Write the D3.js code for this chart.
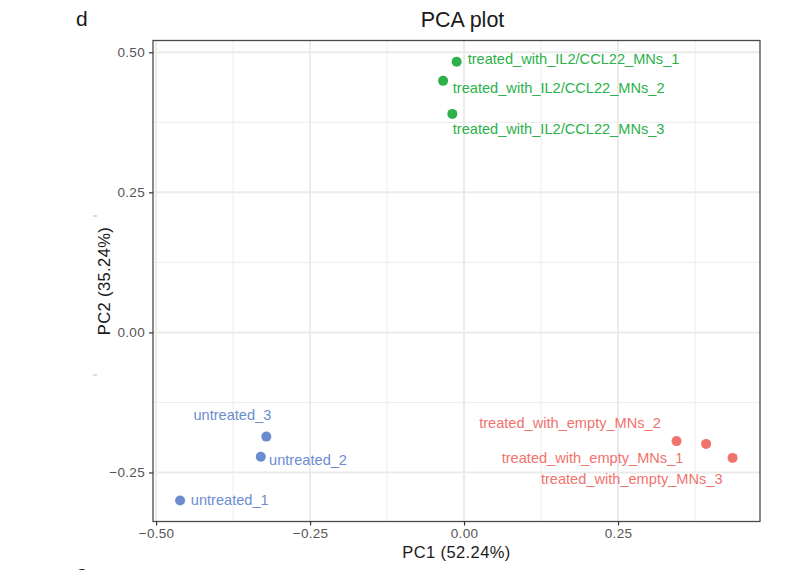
<!DOCTYPE html>
<html>
<head>
<meta charset="utf-8">
<script src="https://cdn.jsdelivr.net/npm/d3@7"></script>
<style>
  body { margin: 0; background: #fff; }
  text { font-family: "Liberation Sans", Arial, Helvetica, sans-serif; }
</style>
</head>
<body>
<script>
// sample data
var samples = ["treated_with_IL2/CCL22_MNs_1", "treated_with_IL2/CCL22_MNs_2", "treated_with_IL2/CCL22_MNs_3",
               "untreated_1", "untreated_2", "untreated_3",
               "treated_with_empty_MNs_1", "treated_with_empty_MNs_2", "treated_with_empty_MNs_3"];
var pc1 = [-0.012, -0.034, -0.019, -0.461, -0.330, -0.321, 0.393, 0.345, 0.436];
var pc2 = [0.483, 0.449, 0.390, -0.300, -0.222, -0.186, -0.199, -0.194, -0.224];
var groups = ["il2", "il2", "il2", "untreated", "untreated", "untreated", "empty", "empty", "empty"];
var xTicks = [-0.5, -0.25, 0, 0.25];
var yTicks = [-0.25, 0, 0.25, 0.5];

var groupColor = { il2: "#2cb14b", untreated: "#6b8dcf", empty: "#f0736e" };

// label placement (ggrepel style), pixel offsets from the point
var labelPos = {
  "treated_with_IL2/CCL22_MNs_1": { dx: 11, dy: -2.7, anchor: "start" },
  "treated_with_IL2/CCL22_MNs_2": { dx: 9.7, dy: 7, anchor: "start" },
  "treated_with_IL2/CCL22_MNs_3": { dx: 0.4, dy: 15.3, anchor: "start" },
  "untreated_1": { dx: 10.7, dy: -0.7, anchor: "start" },
  "untreated_2": { dx: 8.3, dy: 3, anchor: "start" },
  "untreated_3": { dx: 5, dy: -21.7, anchor: "end" },
  "treated_with_empty_MNs_1": { dx: -22.7, dy: 14, anchor: "end" },
  "treated_with_empty_MNs_2": { dx: -15.7, dy: -18.6, anchor: "end" },
  "treated_with_empty_MNs_3": { dx: -10, dy: 21, anchor: "end" }
};

var w = 811, h = 570;
var pLeft = 153, pRight = 760, pTop = 40.5, pBottom = 521.5;

var svg = d3.select("body").append("svg")
    .attr("width", w)
    .attr("height", h);

var x = d3.scaleLinear().domain([-0.505, 0.4805]).range([pLeft, pRight]);
var y = d3.scaleLinear().domain([-0.3375, 0.521]).range([pBottom, pTop]);

var pts = samples.map(function(s, i){
    return { name: s, x: pc1[i], y: pc2[i], group: groups[i] };
});

// minor grid
var xMinor = [-0.375, -0.125, 0.125, 0.375];
var yMinor = [-0.125, 0.125, 0.375];
svg.selectAll(".xminor").data(xMinor).enter().append("line")
    .attr("x1", function(d){ return x(d); }).attr("x2", function(d){ return x(d); })
    .attr("y1", pTop).attr("y2", pBottom)
    .style("stroke", "#ececec").style("stroke-width", 1);
svg.selectAll(".yminor").data(yMinor).enter().append("line")
    .attr("y1", function(d){ return y(d); }).attr("y2", function(d){ return y(d); })
    .attr("x1", pLeft).attr("x2", pRight)
    .style("stroke", "#ececec").style("stroke-width", 1);
// major grid
svg.selectAll(".xmajor").data(xTicks).enter().append("line")
    .attr("x1", function(d){ return x(d); }).attr("x2", function(d){ return x(d); })
    .attr("y1", pTop).attr("y2", pBottom)
    .style("stroke", "#ebebeb").style("stroke-width", 2);
svg.selectAll(".ymajor").data(yTicks).enter().append("line")
    .attr("y1", function(d){ return y(d); }).attr("y2", function(d){ return y(d); })
    .attr("x1", pLeft).attr("x2", pRight)
    .style("stroke", "#ebebeb").style("stroke-width", 2);

// panel border
svg.append("rect")
    .attr("x", pLeft).attr("y", pTop)
    .attr("width", pRight - pLeft).attr("height", pBottom - pTop)
    .style("fill", "none").style("stroke", "#4a4a4a").style("stroke-width", 1.3);

// axes
var fmt = d3.format(".2f");
var xAxis = svg.append("g")
    .attr("transform", "translate(0," + pBottom + ")")
    .call(d3.axisBottom(x).tickValues(xTicks).tickFormat(fmt).tickSizeOuter(0).tickSize(4).tickPadding(3));
var yAxis = svg.append("g")
    .attr("transform", "translate(" + pLeft + ",0)")
    .call(d3.axisLeft(y).tickValues(yTicks).tickFormat(fmt).tickSizeOuter(0).tickSize(4).tickPadding(4));
[xAxis, yAxis].forEach(function(a){
    a.select(".domain").remove();
    a.selectAll("line").style("stroke", "#333").style("stroke-width", 1.2);
    a.selectAll("text").style("fill", "#555").style("font-size", "13.5px")
        .style("letter-spacing", "0.3px")
        .style("font-family", "'Liberation Sans', Arial, sans-serif");
});

// points
svg.selectAll(".pt").data(pts).enter().append("circle")
    .attr("cx", function(d){ return x(d.x); })
    .attr("cy", function(d){ return y(d.y); })
    .attr("r", 5)
    .style("fill", function(d){ return groupColor[d.group]; });

// labels
svg.selectAll(".lab").data(pts).enter().append("text")
    .attr("x", function(d){ return x(d.x) + labelPos[d.name].dx; })
    .attr("y", function(d){ return y(d.y) + labelPos[d.name].dy; })
    .attr("dy", "0.35em")
    .attr("text-anchor", function(d){ return labelPos[d.name].anchor; })
    .style("font-size", "14.6px")
    .style("fill", function(d){ return groupColor[d.group]; })
    .text(function(d){ return d.name; });

// titles
svg.append("text")
    .attr("x", 462.5).attr("y", 26.5)
    .attr("text-anchor", "middle")
    .style("font-size", "21.5px").style("fill", "#1a1a1a")
    .text("PCA plot");
svg.append("text")
    .attr("x", (pLeft + pRight) / 2).attr("y", 557.5)
    .attr("text-anchor", "middle")
    .style("font-size", "16.5px").style("letter-spacing", "0.4px").style("fill", "#1a1a1a")
    .text("PC1 (52.24%)");
svg.append("text")
    .attr("transform", "translate(109.5," + ((pTop + pBottom) / 2) + ") rotate(-90)")
    .attr("text-anchor", "middle")
    .style("font-size", "16.5px").style("letter-spacing", "0.4px").style("fill", "#1a1a1a")
    .text("PC2 (35.24%)");

// panel tags and stray marks from neighbouring panels
svg.append("text")
    .attr("x", 76).attr("y", 26)
    .style("font-size", "21px").style("fill", "#1a1a1a")
    .text("d");
svg.append("text")
    .attr("x", 76).attr("y", 580)
    .style("font-size", "21px").style("fill", "#1a1a1a")
    .text("e");
[216, 375].forEach(function(yy){
    svg.append("line")
        .attr("x1", 93).attr("x2", 97).attr("y1", yy).attr("y2", yy)
        .style("stroke", "#bbb").style("stroke-width", 1);
});
</script>
</body>
</html>
